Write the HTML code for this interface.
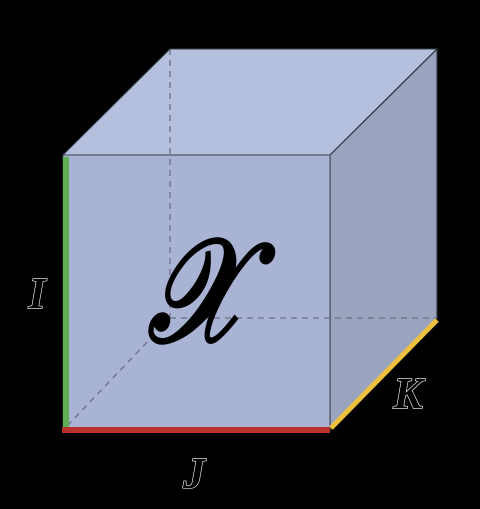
<!DOCTYPE html>
<html><head><style>
html,body{margin:0;padding:0;background:#000;width:480px;height:509px;overflow:hidden}
svg{display:block}
text{font-family:"Liberation Serif",serif;font-style:italic;font-weight:bold}
</style></head><body>
<svg width="480" height="509" viewBox="0 0 480 509">
<polygon points="63,155 170,49 437,49 330,155" fill="#b5c0de" stroke="#3a3f4a" stroke-width="1"/>
<polygon points="330,155 437,49 437,318 330,430" fill="#9aa4bf" stroke="#2e323a" stroke-width="1.2"/>
<rect x="63" y="155" width="267" height="275" fill="#a9b4d4" stroke="#3a3f4a" stroke-width="1"/>
<g stroke="#6b7080" stroke-width="1.3" stroke-dasharray="6,5" fill="none">
<line x1="170" y1="49" x2="170" y2="318"/>
<line x1="170" y1="318" x2="437" y2="318"/>
<line x1="170" y1="318" x2="68" y2="425"/>
</g>
<line x1="66" y1="157" x2="66" y2="428" stroke="#5fae55" stroke-width="6"/>
<line x1="62" y1="430" x2="330" y2="430" stroke="#b8312b" stroke-width="6"/>
<line x1="331" y1="428" x2="437" y2="320" stroke="#eec040" stroke-width="5"/>
<text x="196" y="336" font-size="132" text-anchor="middle" fill="#000" transform="translate(196 284) scale(0.85 1.1) translate(-196 -284)">𝒳</text>
<g stroke="#fff" stroke-width="1.2" paint-order="stroke" fill="#000" font-size="44">
<text x="37" y="308" text-anchor="middle">I</text>
<text x="194" y="488" text-anchor="middle">J</text>
<text x="408" y="408" text-anchor="middle">K</text>
</g>
</svg>
</body></html>
